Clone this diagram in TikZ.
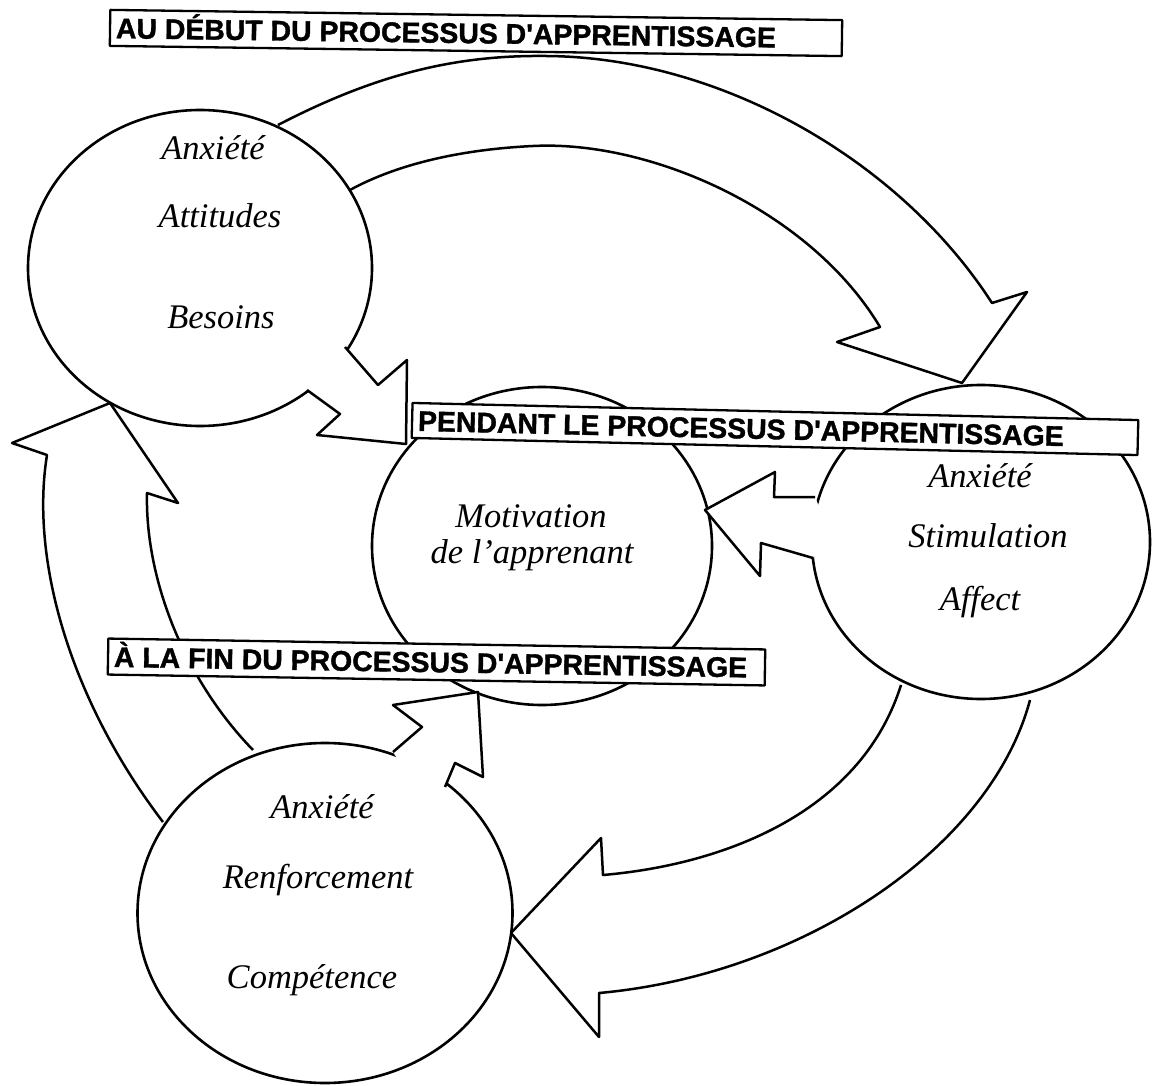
\documentclass[tikz,border=0pt]{standalone}
\usepackage{fontspec}
\setmainfont{Liberation Serif}
\newfontfamily\titlefont{Liberation Sans}[BoldFeatures={FakeBold=1.3}]
\usetikzlibrary{shapes.geometric}
\begin{document}
\begin{tikzpicture}[x=1pt,y=-1pt,line join=round,
  arrowline/.style={line width=2.5pt},
  circ/.style={ellipse,draw,line width=2.6pt,inner sep=0pt},
  titlebox/.style={draw,fill=white,line width=2.3pt,inner xsep=6pt,inner ysep=0pt,
    text height=20.5pt,text depth=0pt,font=\titlefont\bfseries\fontsize{28.4}{30}\selectfont},
  lab/.style={anchor=base,inner sep=0pt,font=\itshape\fontsize{34.5}{40}\selectfont}]
\useasboundingbox (0,0) rectangle (1152,1086);

% big block arrows
% A: from the first circle over the top to the right circle
\draw[arrowline] (278,125) .. controls (380,72) and (460,55) .. (546,56)
  .. controls (720,57) and (900,160) .. (992,303)
  -- (1027,292) -- (962,383) -- (837,342) -- (880,327)
  .. controls (810,210) and (650,140) .. (533,146)
  .. controls (450,150) and (390,168) .. (350,190);
% D: bottom circle up to first circle
\draw[arrowline] (163,822) .. controls (70,700) and (30,560) .. (47,455)
  -- (12,443) -- (110,403) -- (178,503) -- (147,493)
  .. controls (145,580) and (185,680) .. (253,750);
% F: right circle down to bottom circle
\draw[arrowline] (901,685) .. controls (860,815) and (720,865) .. (603,875)
  -- (601,838) -- (511,933) -- (599,1037) -- (599,993)
  .. controls (800,975) and (990,850) .. (1030,700);

% circles
\node[circ,minimum width=344pt,minimum height=316pt] (c1) at (200,268) {};
\node[circ,minimum width=340pt,minimum height=318pt] (c2) at (542,546) {};
\node[circ,minimum width=338pt,minimum height=314pt] (c3) at (981,542) {};
\node[circ,minimum width=375pt,minimum height=340pt] (c4) at (325,913) {};

% short block arrows (they break the outline of the circle they leave)
\def\arrB{(345,347) -- (378,385) -- (407,360) -- (406,444) -- (317,435) -- (340,414) -- (307,390)}
\def\arrC{(815,497) -- (774,497) -- (775,472) -- (705,510) -- (760,576) -- (761,543) -- (813,558)}
\def\arrE{(393,752) -- (422,727) -- (393,705) -- (478,692) -- (483,777) -- (455,763) -- (445,787)}
\fill[white] \arrB -- (318,361) -- cycle;
\fill[white] \arrC -- (828,528) -- cycle;
\fill[white] \arrE -- (412,782) -- cycle;
\draw[arrowline] \arrB;
\draw[arrowline] \arrC;
\draw[arrowline] \arrE;

% texts
\node[lab] (t1a) at (213,160) {Anxiété};
\node[lab] (t1b) at (220,228) {Attitudes};
\node[lab] (t1c) at (221,328) {Besoins};
\node[lab] (t2a) at (531,527) {Motivation};
\node[lab] (t2b) at (532,563) {de l’apprenant};
\node[lab] (t3a) at (980,487) {Anxiété};
\node[lab] (t3b) at (988,547) {Stimulation};
\node[lab] (t3c) at (980,610) {Affect};
\node[lab] (t4a) at (322,818) {Anxiété};
\node[lab] (t4b) at (318,888) {Renforcement};
\node[lab] (t4c) at (312,988) {Compétence};

% titles
\node[titlebox,rotate=-0.8,minimum height=36pt] (debut) at (476,33)
  {\makebox[720pt][l]{AU DÉBUT DU PROCESSUS D'APPRENTISSAGE}};
\node[titlebox,rotate=-1.35,minimum height=35pt] (pendant) at (775,429)
  {\makebox[714pt][l]{PENDANT LE PROCESSUS D'APPRENTISSAGE}};
\node[titlebox,rotate=-0.95,minimum height=36pt] (fin) at (436.5,662)
  {\makebox[645pt][l]{À LA FIN DU PROCESSUS D'APPRENTISSAGE}};
\end{tikzpicture}
\end{document}
